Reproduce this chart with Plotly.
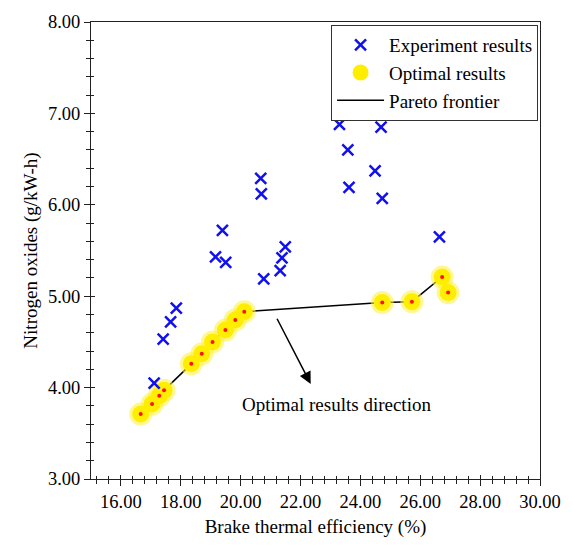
import plotly.graph_objects as go

# Experiment results (brake thermal efficiency %, NOx g/kW-h)
exp_x = [17.11, 17.41, 17.66, 17.85, 19.16, 19.39, 19.50, 20.67, 20.69, 20.77,
         21.32, 21.38, 21.49, 23.30, 23.58, 23.62, 24.49, 24.69, 24.73, 26.64]
exp_y = [4.05, 4.53, 4.72, 4.87, 5.43, 5.72, 5.37, 6.29, 6.12, 5.19,
         5.28, 5.42, 5.54, 6.88, 6.60, 6.19, 6.37, 6.85, 6.07, 5.65]

# Optimal results (Pareto frontier points, in frontier order)
opt_x = [16.66, 17.04, 17.28, 17.44, 18.35, 18.70, 19.06, 19.49, 19.82, 20.12,
         24.73, 25.72, 26.73, 26.93]
opt_y = [3.71, 3.82, 3.91, 3.97, 4.26, 4.37, 4.50, 4.63, 4.74, 4.83,
         4.93, 4.94, 5.21, 5.04]

x_range = [15, 30]
y_range = [3, 8]
x_tick_step = 2
y_tick_step = 1

arrow_tail = (21.19, 4.77)
arrow_head = (22.34, 4.04)
direction_label = "Optimal results direction"
direction_pos = (23.19, 3.81)

FONT = "Liberation Serif, Times New Roman, serif"

fig = go.Figure()

# Pareto frontier line (drawn below markers)
fig.add_trace(go.Scatter(
    x=opt_x, y=opt_y, mode="lines", name="Pareto frontier",
    line=dict(color="black", width=1.5), legendrank=3,
))
# Glow of optimal markers
fig.add_trace(go.Scatter(
    x=opt_x, y=opt_y, mode="markers", showlegend=False, hoverinfo="skip",
    marker=dict(symbol="circle", size=23, color="rgba(255,240,60,0.55)", line=dict(width=0)),
))
# Optimal results core
fig.add_trace(go.Scatter(
    x=opt_x, y=opt_y, mode="markers", name="Optimal results", legendrank=2,
    marker=dict(symbol="circle", size=17, color="#FFEE00", line=dict(width=0)),
))
# Red centre dots
fig.add_trace(go.Scatter(
    x=opt_x, y=opt_y, mode="markers", showlegend=False, hoverinfo="skip",
    marker=dict(symbol="circle", size=4, color="#FF1010", line=dict(width=0)),
))
# Experiment results
fig.add_trace(go.Scatter(
    x=exp_x, y=exp_y, mode="markers", name="Experiment results", legendrank=1,
    marker=dict(symbol="x-thin", size=11, color="#1010F0",
                line=dict(color="#1010F0", width=2.5)),
))

axis_common = dict(
    showgrid=False, zeroline=False, showline=True, linecolor="#222", linewidth=1,
    mirror=True, tickcolor="#222", tickfont=dict(family=FONT, size=18.5, color="black"),
    tickformat=".2f",
)

fig.update_layout(
    width=573, height=546,
    margin=dict(l=91, r=22, t=19, b=65),
    paper_bgcolor="white", plot_bgcolor="white",
    font=dict(family=FONT, color="black"),
    xaxis=dict(
        range=x_range, dtick=x_tick_step, tick0=16, ticks="outside", ticklen=6, tickwidth=1,
        minor=dict(dtick=0.4, tick0=16, ticks="outside", ticklen=4, tickcolor="#222"),
        title=dict(text="Brake thermal efficiency (%)", font=dict(family=FONT, size=19), standoff=8),
        **axis_common,
    ),
    yaxis=dict(
        range=y_range, dtick=y_tick_step, tick0=3, ticks="outside", ticklen=6, tickwidth=1,
        minor=dict(dtick=0.2, tick0=3, ticks="outside", ticklen=4, tickcolor="#222"),
        title=dict(text="Nitrogen oxides (g/kW-h)", font=dict(family=FONT, size=19), standoff=5),
        **axis_common,
    ),
    xaxis2=dict(
        overlaying="x", matches="x", range=x_range, dtick=x_tick_step, tick0=16,
        ticks="inside", ticklen=4, tickcolor="#222", showticklabels=False, showgrid=False,
        zeroline=False, showline=False,
        minor=dict(dtick=0.4, tick0=16, ticks="inside", ticklen=3, tickcolor="#222"),
    ),
    yaxis2=dict(
        overlaying="y", matches="y", range=y_range, dtick=y_tick_step, tick0=3,
        ticks="inside", ticklen=4, tickcolor="#222", showticklabels=False, showgrid=False,
        zeroline=False, showline=False,
        minor=dict(dtick=0.2, tick0=3, ticks="inside", ticklen=3, tickcolor="#222"),
    ),
    legend=dict(
        x=0.9957, xanchor="right", y=0.9935, yanchor="top",
        bgcolor="white", bordercolor="#333", borderwidth=1,
        font=dict(family=FONT, size=19, color="black"),
        tracegroupgap=0, itemwidth=47,
    ),
    showlegend=True,
)

# dummy trace to activate secondary axes (for crossing ticks)
fig.add_trace(go.Scatter(x=[None], y=[None], xaxis="x2", yaxis="y2",
                         showlegend=False, hoverinfo="skip"))

fig.add_annotation(
    x=arrow_head[0], y=arrow_head[1], ax=arrow_tail[0], ay=arrow_tail[1],
    xref="x", yref="y", axref="x", ayref="y",
    showarrow=True, arrowhead=2, arrowsize=1.6, arrowwidth=1.5, arrowcolor="black", text="",
)
fig.add_annotation(
    x=direction_pos[0], y=direction_pos[1], xref="x", yref="y",
    text=direction_label, showarrow=False,
    font=dict(family=FONT, size=19, color="black"),
)

fig.write_html("out.html")
